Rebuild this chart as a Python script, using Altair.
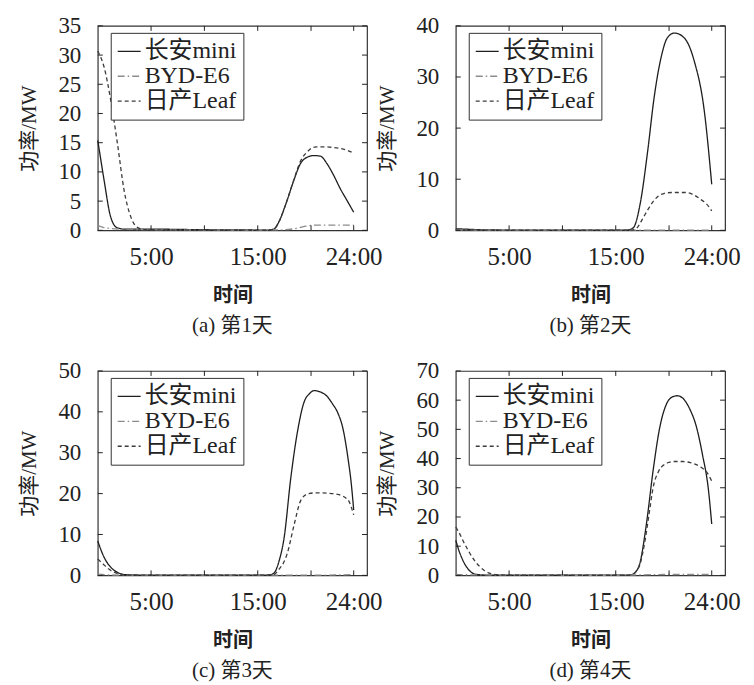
import altair as alt
import pandas as pd

SERIES = ["长安mini", "BYD-E6", "日产Leaf"]
SERIES_COLORS = ["#1e1e1e", "#8c8c8c", "#3c3c3c"]
SERIES_DASH = [[1, 0], [7, 3, 1.5, 3], [4, 3]]

X_TICK_POS = [20, 40, 60, 80, 96]
X_LABEL_POS = [20, 60, 96]
X_LABEL_TEXT = ["5:00", "15:00", "24:00"]

# ---- Day 1 ----
D1_MINI_X = [0, 1, 2.4, 4.9, 7.4, 10, 20, 40, 60, 64, 66, 68, 70, 71, 73.5, 76, 78.5, 81, 83.5, 86, 88.5, 91, 93.5, 96]
D1_MINI_Y = [15.4, 12.5, 8.5, 2.2, 0.4, 0.2, 0.2, 0.1, 0.05, 0.05, 0.2, 1.5, 3.8, 5.1, 8.5, 11.4, 12.5, 12.8, 12.7, 11.4, 9.4, 7.1, 5.1, 3.1]
D1_BYD_X = [0, 2, 5, 10, 20, 40, 60, 70, 74, 78, 82, 88, 96]
D1_BYD_Y = [0.8, 0.5, 0.3, 0.2, 0.1, 0.05, 0.05, 0.1, 0.3, 0.7, 0.9, 0.9, 0.9]
D1_LEAF_X = [0, 2.4, 4.9, 7.4, 9.9, 12.4, 14.9, 18, 30, 40, 50, 60, 64, 66, 68, 70, 71, 73.5, 76, 78.5, 80, 82, 85, 88, 91, 93.5, 96]
D1_LEAF_Y = [30.7, 27.9, 22.2, 14.8, 6.8, 2.3, 0.5, 0.1, 0.05, 0.05, 0.05, 0.05, 0.05, 0.2, 1.5, 3.8, 5.1, 8.6, 11.8, 13.4, 14.0, 14.3, 14.3, 14.2, 14.0, 13.7, 13.2]

# ---- Day 2 ----
D2_MINI_X = [0, 5, 10, 20, 40, 60, 64, 66, 67, 69.4, 72, 74.4, 77, 79.4, 82, 85.6, 89.4, 93.2, 96]
D2_MINI_Y = [0.3, 0.2, 0.1, 0.05, 0.05, 0.05, 0.05, 0.3, 0.8, 5.9, 15.6, 26.0, 33.8, 37.7, 38.6, 37.7, 33.2, 23.4, 9.0]
D2_BYD_X = [0, 20, 40, 60, 80, 96]
D2_BYD_Y = [0.05, 0.05, 0.05, 0.05, 0.05, 0.05]
D2_LEAF_X = [0, 10, 40, 60, 66, 68, 70, 72, 74, 76, 78, 81, 86, 89, 92, 94, 96]
D2_LEAF_Y = [0.05, 0.05, 0.05, 0.05, 0.05, 0.5, 2.2, 4.0, 5.6, 6.7, 7.2, 7.4, 7.4, 7.0, 6.0, 5.2, 3.8]

# ---- Day 3 ----
D3_MINI_X = [0, 2.4, 5, 7.5, 10, 20, 40, 60, 64, 66, 68, 69.9, 72.4, 74.9, 77.4, 79.5, 81.2, 83.7, 86, 88, 90, 92, 94, 95, 96]
D3_MINI_Y = [8.4, 4.4, 1.9, 0.7, 0.2, 0.05, 0.05, 0.05, 0.05, 0.5, 3.5, 9.2, 23.8, 35.1, 42.4, 44.5, 45.2, 44.8, 43.8, 42.0, 39.8, 35.8, 28.0, 23.0, 16.0]
D3_BYD_X = [0, 5, 20, 40, 60, 80, 96]
D3_BYD_Y = [0.3, 0.1, 0.05, 0.05, 0.05, 0.05, 0.2]
D3_LEAF_X = [0, 2, 4, 6, 8, 10, 20, 40, 60, 66, 68, 70, 71, 73.7, 76, 78.6, 82, 86, 90, 93.8, 96]
D3_LEAF_Y = [4.0, 2.8, 1.6, 0.8, 0.3, 0.1, 0.05, 0.05, 0.05, 0.2, 1.5, 3.5, 5.2, 12.5, 18.1, 19.9, 20.2, 20.1, 19.8, 18.5, 14.8]

# ---- Day 4 ----
D4_MINI_X = [0, 1, 3.3, 5.8, 8, 12, 20, 40, 60, 64, 66, 67.5, 69, 71.5, 74, 76.5, 79, 81, 83, 85, 86.5, 88, 90, 92.5, 94.8, 96]
D4_MINI_Y = [12.0, 9.0, 4.0, 1.1, 0.3, 0.1, 0.05, 0.05, 0.05, 0.05, 0.3, 1.2, 4.0, 17.6, 35.8, 50.6, 58.6, 61.0, 61.5, 60.8, 59.1, 56.5, 51.7, 41.5, 29.0, 17.6]
D4_BYD_X = [0, 5, 20, 40, 60, 70, 80, 96]
D4_BYD_Y = [0.3, 0.2, 0.1, 0.05, 0.05, 0.2, 0.3, 0.3]
D4_LEAF_X = [0, 1, 3.3, 5, 7, 9, 10.7, 13.2, 16, 20, 40, 60, 64, 66, 67.5, 69, 71, 72.5, 74, 76, 78, 80, 82, 85, 88, 90, 92, 94, 96]
D4_LEAF_Y = [16.5, 15.0, 10.8, 8.0, 5.1, 3.0, 1.7, 0.6, 0.2, 0.05, 0.05, 0.05, 0.05, 0.3, 1.2, 3.5, 12.0, 21.0, 30.0, 35.5, 37.8, 38.7, 39.0, 39.0, 38.6, 38.0, 37.0, 35.5, 32.3]

Y_MAX = [35, 40, 50, 70]
Y_STEP = [5, 10, 10, 10]
CAPTIONS = ["(a) 第1天", "(b) 第2天", "(c) 第3天", "(d) 第4天"]

PANEL_X = [
    [D1_MINI_X, D1_BYD_X, D1_LEAF_X],
    [D2_MINI_X, D2_BYD_X, D2_LEAF_X],
    [D3_MINI_X, D3_BYD_X, D3_LEAF_X],
    [D4_MINI_X, D4_BYD_X, D4_LEAF_X],
]
PANEL_Y = [
    [D1_MINI_Y, D1_BYD_Y, D1_LEAF_Y],
    [D2_MINI_Y, D2_BYD_Y, D2_LEAF_Y],
    [D3_MINI_Y, D3_BYD_Y, D3_LEAF_Y],
    [D4_MINI_Y, D4_BYD_Y, D4_LEAF_Y],
]

W, H = 270, 205
SERIF = "Liberation Serif, Noto Sans CJK SC"
CJK = "Noto Sans CJK SC"
INK = "#222222"
TICK = 5


def make_panel(xs_list, ys_list, ymax, ystep, caption):
    rows = []
    for name, xs, ys in zip(SERIES, xs_list, ys_list):
        for xv, yv in zip(xs, ys):
            rows.append({"x": xv, "y": yv, "series": name})
    df = pd.DataFrame(rows)
    xscale = alt.Scale(domain=[0, 101], nice=False, zero=False)
    yscale = alt.Scale(domain=[0, ymax], nice=False)
    yvals = list(range(0, ymax + 1, ystep))
    label_expr = " : ".join(
        f"datum.value == {p} ? '{t}'" for p, t in zip(X_LABEL_POS, X_LABEL_TEXT)
    ) + " : ''"

    x_enc = alt.X("x:Q", scale=xscale, title="时间",
                  axis=alt.Axis(values=X_LABEL_POS, labelExpr=label_expr,
                                labelPadding=14, titlePadding=16, labelFontSize=25,
                                titleFont=CJK, titleFontSize=20, titleFontWeight="bold"))
    y_enc = alt.Y("y:Q", scale=yscale, title="功率/MW",
                  axis=alt.Axis(values=yvals, labelPadding=17,
                                titlePadding=18, labelFontSize=23,
                                titleFont=SERIF, titleFontSize=21, titleFontWeight="normal"))

    legend = alt.Legend(
        title=None, orient="none", legendX=13, legendY=7, symbolType="stroke",
    )
    lines = alt.Chart(df).mark_line(strokeWidth=1.3, interpolate="monotone").encode(
        x=x_enc,
        y=y_enc,
        color=alt.Color("series:N", scale=alt.Scale(domain=SERIES, range=SERIES_COLORS),
                        legend=legend),
        strokeDash=alt.StrokeDash("series:N", scale=alt.Scale(domain=SERIES, range=SERIES_DASH),
                                  legend=legend),
    )

    xt = pd.DataFrame({"x": X_TICK_POS})
    yt = pd.DataFrame({"y": yvals})
    rule = dict(color=INK, strokeWidth=1)
    bx = alt.Chart(xt).mark_rule(**rule).encode(
        x=x_enc, y=alt.value(H), y2=alt.value(H - TICK))
    tx = alt.Chart(xt).mark_rule(**rule).encode(
        x=x_enc, y=alt.value(0), y2=alt.value(TICK))
    ly = alt.Chart(yt).mark_rule(**rule).encode(
        y=y_enc, x=alt.value(0), x2=alt.value(TICK))
    ry = alt.Chart(yt).mark_rule(**rule).encode(
        y=y_enc, x=alt.value(W), x2=alt.value(W - TICK))

    return alt.layer(lines, bx, tx, ly, ry).properties(
        width=W, height=H,
        title=alt.TitleParams(text=caption, orient="bottom", anchor="middle", offset=10,
                              font=SERIF, fontSize=21, fontWeight="normal", color=INK),
    )


panels = [
    make_panel(PANEL_X[i], PANEL_Y[i], Y_MAX[i], Y_STEP[i], CAPTIONS[i]) for i in range(4)
]

chart = alt.concat(
    *panels, columns=2, spacing={"row": 141, "column": 89}, bounds="flush"
).resolve_scale(
    color="independent", strokeDash="independent"
).resolve_legend(
    color="independent", strokeDash="independent"
)

chart = chart.properties(
    padding={"left": 10, "top": 5, "right": 5, "bottom": 5},
    background="white",
).configure_view(
    stroke="#333333", strokeWidth=1.2,
).configure_axis(
    domain=False, ticks=False, tickSize=0, grid=False,
    labelFont=SERIF, labelColor=INK, titleColor=INK,
    labelOverlap=False, labelFlush=False,
).configure_legend(
    strokeColor="#333333", fillColor="white", padding=6, rowPadding=0,
    symbolSize=529, symbolStrokeWidth=1.3, labelFont=SERIF, labelFontSize=24,
    labelColor=INK, labelOffset=3, cornerRadius=0,
)

chart.save("out.html", embed_options={"renderer": "svg", "actions": False})
